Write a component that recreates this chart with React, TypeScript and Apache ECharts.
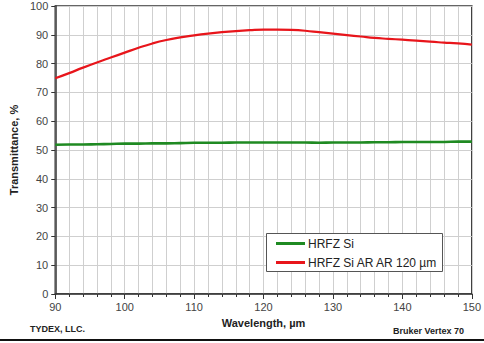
import React, { useEffect, useRef } from "react";
import * as echarts from "echarts";

const wavelengths = [90, 92, 94, 96, 98, 100, 102, 104, 106, 108, 110, 112, 114, 116, 118, 120, 122, 124, 126, 128, 130, 132, 134, 136, 138, 140, 142, 144, 146, 148, 150];
const arCoated = [74.9, 76.7, 78.6, 80.4, 82.1, 83.8, 85.5, 87.0, 88.2, 89.1, 89.8, 90.4, 90.9, 91.3, 91.6, 91.8, 91.8, 91.7, 91.4, 90.9, 90.4, 89.9, 89.4, 88.9, 88.6, 88.3, 88.0, 87.6, 87.3, 87.0, 86.6];
const hrfzSi = [51.8, 51.9, 51.9, 52.0, 52.1, 52.2, 52.2, 52.3, 52.3, 52.4, 52.5, 52.5, 52.5, 52.6, 52.6, 52.6, 52.6, 52.6, 52.6, 52.5, 52.6, 52.6, 52.6, 52.7, 52.7, 52.8, 52.8, 52.8, 52.8, 52.9, 52.9];
const seriesNames = ["HRFZ Si", "HRFZ Si AR AR 120 µm"];

const FONT = "'Liberation Sans', Arial, sans-serif";

export default function App() {
  const ref = useRef<HTMLDivElement>(null);
  useEffect(() => {
    if (!ref.current) return;
    const chart = echarts.init(ref.current, null, { renderer: "svg" });
    chart.setOption({
      animation: false,
      backgroundColor: "#fff",
      textStyle: { fontFamily: FONT },
      grid: { left: 45, right: 12, top: 6, bottom: 49, show: true, borderColor: "#333", borderWidth: 1.5, containLabel: false },
      xAxis: {
        type: "value",
        min: 90,
        max: 150,
        interval: 10,
        axisLine: { show: true, lineStyle: { color: "#333", width: 1.5 } },
        axisTick: { show: true, length: 5, lineStyle: { color: "#333" } },
        minorTick: { show: true, splitNumber: 5, length: 3, lineStyle: { color: "#333" } },
        splitLine: { show: true, lineStyle: { color: "#cfcfcf", width: 1 } },
        minorSplitLine: { show: true, lineStyle: { color: "#cfcfcf", width: 1 } },
        axisLabel: { color: "#444", fontSize: 11, margin: 7, fontFamily: FONT },
        name: "Wavelength, µm",
        nameLocation: "middle",
        nameGap: 23,
        nameTextStyle: { color: "#222", fontSize: 11, fontWeight: "bold", fontFamily: FONT },
      },
      yAxis: {
        type: "value",
        min: 0,
        max: 100,
        interval: 10,
        axisLine: { show: true, lineStyle: { color: "#333", width: 1.5 } },
        axisTick: { show: true, length: 4, lineStyle: { color: "#333" } },
        splitLine: { show: true, lineStyle: { color: "#cfcfcf", width: 1 } },
        axisLabel: { color: "#444", fontSize: 11, margin: 7, fontFamily: FONT },
        name: "Transmittance, %",
        nameLocation: "middle",
        nameGap: 35,
        nameTextStyle: { color: "#222", fontSize: 11, fontWeight: "bold", fontFamily: FONT },
      },
      legend: {
        show: true,
        orient: "vertical",
        left: 276,
        top: 236,
        z: 20,
        itemWidth: 29,
        itemHeight: 3,
        itemGap: 4,
        icon: "rect",
        padding: 0,
        textStyle: { fontSize: 12, color: "#222", fontFamily: FONT, padding: [0, 0, 0, -2], lineHeight: 15 },
        data: seriesNames,
      },
      graphic: [
        { type: "rect", left: 266, top: 233, z: 10, shape: { width: 176, height: 38 }, style: { fill: "#fff", stroke: "#555", lineWidth: 1 } },
        { type: "text", left: 30, top: 324, style: { text: "TYDEX, LLC.", font: `bold 9px ${FONT}`, fill: "#222" } },
        { type: "text", right: 20, top: 326, style: { text: "Bruker Vertex 70", font: `bold 9px ${FONT}`, fill: "#222" } },
        { type: "rect", left: 0, top: 339, shape: { width: 484, height: 2 }, style: { fill: "#111" } },
      ],
      series: [
        {
          name: seriesNames[0],
          type: "line",
          showSymbol: false,
          smooth: true,
          color: "#1f8a22",
          lineStyle: { width: 2.6, color: "#1f8a22" },
          data: wavelengths.map((w, i) => [w, hrfzSi[i]]),
          z: 3,
        },
        {
          name: seriesNames[1],
          type: "line",
          showSymbol: false,
          smooth: true,
          color: "#e8151b",
          lineStyle: { width: 2.2, color: "#e8151b" },
          data: wavelengths.map((w, i) => [w, arCoated[i]]),
          z: 3,
        },
      ],
    });
    return () => chart.dispose();
  }, []);
  return <div ref={ref} style={{ position: "absolute", left: 0, top: 0, width: 484, height: 343 }} />;
}
